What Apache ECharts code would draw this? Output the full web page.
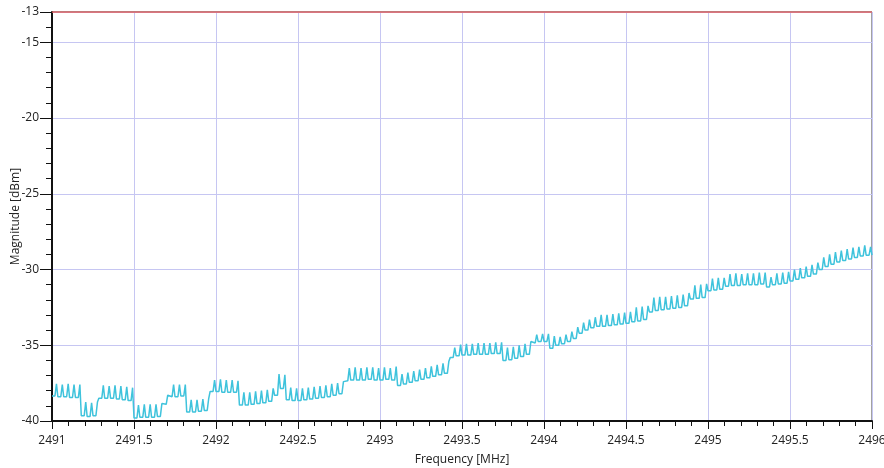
<!DOCTYPE html>
<html>
<head>
<meta charset="utf-8">
<script src="https://cdn.jsdelivr.net/npm/echarts@6/dist/echarts.min.js"></script>
<style>
html,body{margin:0;padding:0;background:#fff;}
#c{width:884px;height:468px;}
</style>
</head>
<body>
<div id="c"></div>
<script>
// Frequency span (MHz) and magnitude span (dBm)
const freqRange = [2491, 2496];
const magRange = [-40, -13];
const limitDb = -13;

// Trace: one entry per comb tooth, baseline (valley) level and tooth peak level, in dBm
const baseDb = [
  -38.35,-38.40,-38.40,-38.45,-38.45,           // 0-4
  -39.65,-39.70,-39.65,                         // 5-7
  -38.50,-38.50,-38.50,-38.55,-38.60,-38.65,    // 8-13
  -39.80,-39.75,-39.75,-39.75,-39.70,           // 14-18
  -38.90,-38.40,-38.40,-38.35,                  // 19-22
  -39.40,-39.40,-39.35,-39.30,                  // 23-26
  -38.05,-38.05,-38.10,-38.10,-38.10,           // 27-31
  -38.95,-38.95,-38.90,-38.85,-38.80,-38.70,    // 32-37
  -38.30,-37.85,-38.60,                         // 38-40
  -38.65,-38.65,-38.60,-38.55,-38.50,-38.45,-38.40,-38.30,-38.20, // 41-49
  -37.35,-37.30,-37.30,-37.30,-37.25,-37.30,-37.30,-37.25,-37.30, // 50-58
  -37.65,-37.55,-37.45,-37.35,-37.25,-37.15,-37.05,-36.95,-36.85, // 59-67
  -35.80,-35.70,-35.65,-35.65,-35.60,-35.60,-35.60,-35.55,-35.55, // 68-76
  -36.00,-35.95,-35.85,-35.75,-35.60,           // 77-81
  -34.85,-34.75,-34.75,-35.20,                  // 82-85
  -35.00,-34.90,-34.75,-34.55,-34.20,-34.00,-33.85, // 86-92
  -33.75,-33.75,-33.70,-33.65,-33.60,-33.55,    // 93-98
  -33.45,-33.40,-33.30,                         // 99-101
  -32.80,-32.70,-32.65,-32.60,-32.55,-32.50,-32.40, // 102-108
  -31.95,-31.90,-31.85,                         // 109-111
  -31.40,-31.35,-31.30,                         // 112-114
  -31.10,-31.05,-31.05,-31.00,-31.00,-31.00,-30.95, // 115-121
  -31.15,-31.00,-30.95,-30.90,                  // 122-125
  -30.75,-30.65,-30.55,-30.45,-30.30,           // 126-130
  -30.00,-29.80,-29.65,-29.50,-29.40,-29.30,-29.20,-29.10,-29.05  // 131-139
];
const peakDb = [
  -37.55,-37.60,-37.55,-37.60,-37.60,
  -38.75,-38.80,-38.75,
  -37.65,-37.70,-37.65,-37.70,-37.75,-37.80,
  -38.95,-38.90,-38.90,-38.90,-38.85,
  -38.30,-37.60,-37.60,-37.60,
  -38.60,-38.60,-38.55,-38.50,
  -37.30,-37.25,-37.30,-37.30,-37.35,
  -38.10,-38.10,-38.05,-38.00,-37.95,-37.85,
  -36.90,-36.95,-37.80,
  -37.85,-37.85,-37.80,-37.75,-37.70,-37.65,-37.55,-37.50,-37.40,
  -36.50,-36.45,-36.50,-36.45,-36.45,-36.50,-36.45,-36.50,-36.40,
  -36.90,-36.80,-36.70,-36.60,-36.50,-36.40,-36.30,-36.20,-36.05,
  -35.15,-34.95,-34.90,-34.90,-34.85,-34.85,-34.85,-34.80,-34.80,
  -35.15,-35.10,-35.00,-34.90,-34.75,
  -34.30,-34.25,-34.25,-34.40,
  -34.45,-34.30,-34.10,-33.80,-33.50,-33.30,-33.15,
  -33.00,-33.00,-32.95,-32.90,-32.85,-32.80,
  -32.50,-32.45,-32.40,
  -31.85,-31.80,-31.80,-31.75,-31.70,-31.65,-31.55,
  -31.05,-31.00,-30.95,
  -30.60,-30.55,-30.55,
  -30.30,-30.25,-30.30,-30.25,-30.25,-30.20,-30.20,
  -30.50,-30.25,-30.20,-30.15,
  -30.00,-29.90,-29.80,-29.70,-29.55,
  -29.20,-29.00,-28.85,-28.75,-28.65,-28.55,-28.50,-28.40,-28.50
];
const endDb = -29.05;

const toothWidth = (freqRange[1] - freqRange[0]) / baseDb.length;
const trace = [];
for (let i = 0; i < baseDb.length; i++) {
  const f = freqRange[0] + i * toothWidth;
  trace.push([f, baseDb[i]]);
  trace.push([f + toothWidth * 0.5, baseDb[i]]);
  trace.push([f + toothWidth * 0.76, peakDb[i]]);
}
trace.push([freqRange[1], endDb]);

const font = "'Open Sans', 'Noto Sans', sans-serif";
const chart = echarts.init(document.getElementById('c'), null, {renderer: 'canvas'});
const gridBox = {left: 52, right: 12, top: 12, bottom: 47, containLabel: false, outerBoundsMode: 'none'};
chart.setOption({
  animation: false,
  backgroundColor: '#fff',
  grid: [
    Object.assign({show: true, borderColor: '#444', borderWidth: 1}, gridBox),
    Object.assign({show: false}, gridBox)
  ],
  xAxis: [{
    type: 'value', gridIndex: 0,
    min: freqRange[0], max: freqRange[1], interval: 0.5,
    name: 'Frequency [MHz]', nameLocation: 'middle', nameGap: 33, nameMoveOverlap: false,
    nameTextStyle: {color: '#222', fontFamily: font, fontSize: 12},
    axisLine: {show: true, onZero: false, lineStyle: {color: '#111', width: 2}},
    axisTick: {show: true, length: 8, lineStyle: {color: '#111', width: 1}},
    minorTick: {show: true, splitNumber: 5, length: 5, lineStyle: {color: '#111', width: 1}},
    axisLabel: {color: '#222', fontFamily: font, fontSize: 12, margin: 14, showMinLabel: true, showMaxLabel: true,
      formatter: v => String(v)},
    splitLine: {show: true, lineStyle: {color: '#c6c6f2', width: 1}},
    minorSplitLine: {show: false}
  }, {
    type: 'value', gridIndex: 1, min: freqRange[0], max: freqRange[1], show: false
  }],
  yAxis: [{
    type: 'value', gridIndex: 0,
    min: magRange[0], max: magRange[1], interval: 5,
    name: 'Magnitude [dBm]', nameLocation: 'middle', nameGap: 30, nameRotate: 90, nameMoveOverlap: false,
    nameTextStyle: {color: '#222', fontFamily: font, fontSize: 12},
    axisLine: {show: true, onZero: false, lineStyle: {color: '#111', width: 2}},
    axisTick: {show: true, length: 12, lineStyle: {color: '#111', width: 1}},
    axisLabel: {color: '#222', fontFamily: font, fontSize: 12, margin: 13, showMinLabel: true, showMaxLabel: true,
      formatter: v => String(v)},
    splitLine: {show: true, lineStyle: {color: '#c6c6f2', width: 1}}
  }, {
    type: 'value', gridIndex: 1,
    min: magRange[0], max: magRange[1], interval: 1,
    axisLine: {show: false},
    axisTick: {show: true, length: 6, lineStyle: {color: '#111', width: 1}},
    axisLabel: {show: false},
    splitLine: {show: false}
  }],
  series: [{
    type: 'line', xAxisIndex: 0, yAxisIndex: 0,
    data: trace, showSymbol: false, symbol: 'none',
    lineStyle: {color: '#3fc3dc', width: 1.5},
    z: 3
  }, {
    type: 'line', xAxisIndex: 0, yAxisIndex: 0,
    data: [[freqRange[0], limitDb], [freqRange[1], limitDb]],
    showSymbol: false, symbol: 'none',
    lineStyle: {color: '#e05a5a', width: 1.5},
    z: 4
  }]
});
</script>
</body>
</html>
